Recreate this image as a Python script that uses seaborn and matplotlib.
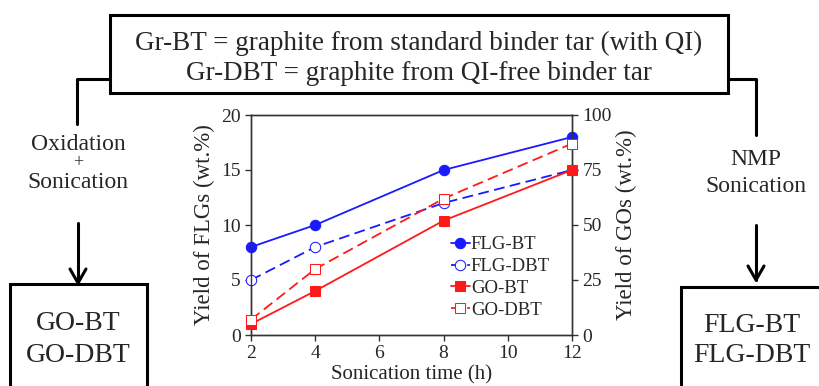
import numpy as np
import pandas as pd
import seaborn as sns
import matplotlib.pyplot as plt
from matplotlib.patches import Rectangle
from matplotlib.lines import Line2D

time_h = [2, 4, 8, 12]
flg_bt = [8, 10, 15, 18]
flg_dbt = [5, 8, 12, 15]
go_bt = [5, 20, 52, 75]
go_dbt = [7, 30, 62, 87]

sns.set_style("ticks")
plt.rcParams['font.family'] = ['Liberation Serif', 'DejaVu Serif']

W, H = 820, 386
fig = plt.figure(figsize=(W / 100, H / 100), dpi=100)


def fx(x):
    return x / W


def fy(y):
    return 1 - y / H


blue = '#1a1aff'
red = '#ff1a1a'

ax = fig.add_axes([fx(251), fy(335), fx(572) - fx(251), fy(115) - fy(335)])
ax2 = ax.twinx()

df = pd.DataFrame({'t': time_h, 'flg_bt': flg_bt, 'flg_dbt': flg_dbt,
                   'go_bt': go_bt, 'go_dbt': go_dbt})

sns.lineplot(data=df, x='t', y='flg_bt', ax=ax, color=blue, marker='o',
             markersize=7.5, markeredgecolor=blue, lw=1.3, label='FLG-BT',
             legend=False, clip_on=False, zorder=5)
sns.lineplot(data=df, x='t', y='flg_dbt', ax=ax, color=blue, marker='o',
             markersize=7.5, markerfacecolor='white', markeredgecolor=blue,
             lw=1.3, dashes=(6, 3), label='FLG-DBT', legend=False, clip_on=False, zorder=5)
sns.lineplot(data=df, x='t', y='go_bt', ax=ax2, color=red, marker='s',
             markersize=7, markeredgecolor=red, lw=1.3, label='GO-BT',
             legend=False, clip_on=False, zorder=5)
sns.lineplot(data=df, x='t', y='go_dbt', ax=ax2, color=red, marker='s',
             markersize=7, markerfacecolor='white', markeredgecolor=red,
             lw=1.3, dashes=(6, 3), label='GO-DBT', legend=False, clip_on=False, zorder=5)

ax.set_xlim(2, 12)
ax.set_ylim(0, 20)
ax2.set_ylim(0, 100)
ax.set_xticks([2, 4, 6, 8, 10, 12])
ax.set_yticks([0, 5, 10, 15, 20])
ax2.set_yticks([0, 25, 50, 75, 100])
ax.set_xlabel('Sonication time (h)', fontsize=15, labelpad=2)
ax.set_ylabel('Yield of FLGs (wt.%)', fontsize=16.5, labelpad=4)
ax2.set_ylabel('Yield of GOs (wt.%)', fontsize=16.5, labelpad=3)
for a in (ax, ax2):
    a.tick_params(labelsize=14, width=1, length=4, color='#333333')
    for s in a.spines.values():
        s.set_linewidth(1)
        s.set_color('#333333')

h1, l1 = ax.get_legend_handles_labels()
h2, l2 = ax2.get_legend_handles_labels()
leg = ax2.legend(h1 + h2, l1 + l2, loc='lower left', bbox_to_anchor=(0.6, 0.04),
                 frameon=False, fontsize=13.5, handlelength=1.0, handletextpad=0.05,
                 labelspacing=0.25, borderaxespad=0)

# flow diagram
lw = 2.2
fig.add_artist(Rectangle((fx(110), fy(93)), fx(728) - fx(110), fy(15) - fy(93),
                         transform=fig.transFigure, fill=False, lw=lw, ec='black'))
fig.text(fx(419), fy(43), 'Gr-BT = graphite from standard binder tar (with QI)',
         ha='center', va='center', fontsize=19.5)
fig.text(fx(419), fy(73), 'Gr-DBT = graphite from QI-free binder tar',
         ha='center', va='center', fontsize=19.5)

fig.add_artist(Line2D([fx(110), fx(77), fx(77)], [fy(79), fy(79), fy(124)],
                      transform=fig.transFigure, lw=lw, color='black'))
fig.add_artist(Line2D([fx(728), fx(756), fx(756)], [fy(79), fy(79), fy(135)],
                      transform=fig.transFigure, lw=lw, color='black'))

fig.text(fx(78), fy(145), 'Oxidation', ha='center', va='center', fontsize=17)
fig.text(fx(78), fy(163), '+', ha='center', va='center', fontsize=13)
fig.text(fx(78), fy(182), 'Sonication', ha='center', va='center', fontsize=17)
fig.text(fx(756), fy(160), 'NMP', ha='center', va='center', fontsize=17)
fig.text(fx(756), fy(187), 'Sonication', ha='center', va='center', fontsize=17)

for x0, y0, y1 in [(78, 223, 283), (756, 225, 280)]:
    fig.add_artist(Line2D([fx(x0), fx(x0)], [fy(y0), fy(y1)],
                          transform=fig.transFigure, lw=lw, color='black'))
    fig.add_artist(Line2D([fx(x0 - 8), fx(x0), fx(x0 + 8)], [fy(y1 - 14), fy(y1), fy(y1 - 14)],
                          transform=fig.transFigure, lw=lw, color='black'))

fig.add_artist(Rectangle((fx(10), fy(400)), fx(147) - fx(10), fy(284) - fy(400),
                         transform=fig.transFigure, fill=False, lw=lw, ec='black'))
fig.add_artist(Rectangle((fx(681), fy(400)), fx(840) - fx(681), fy(287) - fy(400),
                         transform=fig.transFigure, fill=False, lw=lw, ec='black'))
fig.text(fx(78), fy(323), 'GO-BT', ha='center', va='center', fontsize=20)
fig.text(fx(78), fy(355), 'GO-DBT', ha='center', va='center', fontsize=20)
fig.text(fx(752), fy(325), 'FLG-BT', ha='center', va='center', fontsize=20)
fig.text(fx(752), fy(356), 'FLG-DBT', ha='center', va='center', fontsize=20)

fig.savefig('out.png', dpi=100)
